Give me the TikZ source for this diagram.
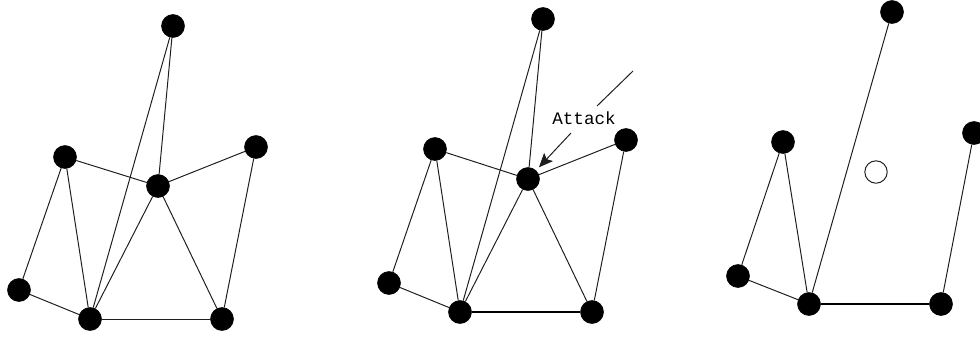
\documentclass[tikz,border=0pt]{standalone}
\usepackage{tikz}
\usetikzlibrary{arrows.meta}
\usepackage{fontspec}
\newfontfamily\attackfont{Liberation Mono}
\usepackage{xcolor}
\definecolor{ColA}{RGB}{0,0,0}
\definecolor{ColB}{RGB}{30,30,30}
\tikzstyle{NodeGraph}=[circle,draw=ColA,fill=ColA,inner sep=0pt,minimum size=5.75mm]
\tikzstyle{NodeGone}=[circle,draw=ColB,fill=white,inner sep=0pt,minimum size=5.6mm,line width=.7pt]
\tikzstyle{EdgeGraph}=[ColB,line width=.7pt]
\tikzstyle{EdgeBold}=[ColA,line width=1.6pt]

\begin{document}
\begin{tikzpicture}[x=0.025cm,y=-0.025cm]
    \useasboundingbox (0,0) rectangle (980,336);
        % first graph
        \node[NodeGraph](a1)at(173,26){};
        \node[NodeGraph](b1)at(65,157){};
        \node[NodeGraph](c1)at(158,186){};
        \node[NodeGraph](d1)at(256,147){};
        \node[NodeGraph](e1)at(19,290){};
        \node[NodeGraph](f1)at(90,319){};
        \node[NodeGraph](g1)at(222,319){};
        \draw[EdgeGraph](a1)--(c1);
        \draw[EdgeGraph](a1)--(f1);
        \draw[EdgeGraph](b1)--(c1);
        \draw[EdgeGraph](c1)--(d1);
        \draw[EdgeGraph](b1)--(e1);
        \draw[EdgeGraph](b1)--(f1);
        \draw[EdgeGraph](e1)--(f1);
        \draw[EdgeGraph](c1)--(f1);
        \draw[EdgeGraph](c1)--(g1);
        \draw[EdgeGraph](d1)--(g1);
        \draw[EdgeGraph](f1)--(g1);
        % second graph
        \node[NodeGraph](a2)at(543,19){};
        \node[NodeGraph](b2)at(435,149){};
        \node[NodeGraph](c2)at(528,179){};
        \node[NodeGraph](d2)at(626,140){};
        \node[NodeGraph](e2)at(389,283){};
        \node[NodeGraph](f2)at(460,312){};
        \node[NodeGraph](g2)at(592,312){};
        \draw[EdgeGraph](a2)--(c2);
        \draw[EdgeGraph](a2)--(f2);
        \draw[EdgeGraph](b2)--(c2);
        \draw[EdgeGraph](c2)--(d2);
        \draw[EdgeGraph](b2)--(e2);
        \draw[EdgeGraph](b2)--(f2);
        \draw[EdgeGraph](e2)--(f2);
        \draw[EdgeGraph](c2)--(f2);
        \draw[EdgeGraph](c2)--(g2);
        \draw[EdgeGraph](d2)--(g2);
        \draw[EdgeBold](f2)--(g2);
        \node[font=\attackfont\fontsize{12.5}{12.5}\selectfont,inner sep=1pt](atk)at(584,118){Attack};
        \coordinate(p)at(633,71);
        \coordinate(q)at(597,106);
        \coordinate(r)at(571,133);
        \draw[EdgeGraph](p)--(q);
        \draw[EdgeGraph,-{Stealth[length=10pt,width=8.5pt,inset=2pt]},shorten >=3pt](r)--(c2);
        % third graph
        \node[NodeGraph](a3)at(892,12){};
        \node[NodeGraph](b3)at(783,142){};
        \node[NodeGone](c3)at(876,172){};
        \node[NodeGraph](d3)at(974,133){};
        \node[NodeGraph](e3)at(738,276){};
        \node[NodeGraph](f3)at(809,304){};
        \node[NodeGraph](g3)at(941,304){};
        \draw[EdgeGraph](a3)--(f3);
        \draw[EdgeGraph](b3)--(e3);
        \draw[EdgeGraph](b3)--(f3);
        \draw[EdgeGraph](e3)--(f3);
        \draw[EdgeGraph](d3)--(g3);
        \draw[EdgeBold](f3)--(g3);
    \end{tikzpicture}
\end{document}
